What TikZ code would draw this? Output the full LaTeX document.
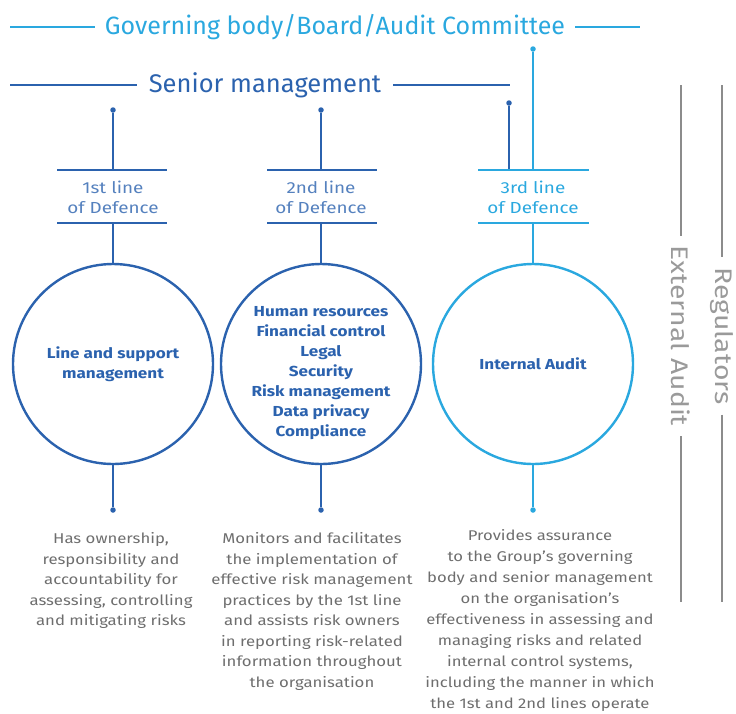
\documentclass[tikz,border=0pt]{standalone}
\usepackage{fontspec}
\setmainfont{Fira Sans}
\newfontfamily\wide{Fira Sans}[FakeStretch=1.18,Ligatures=TeX]
\definecolor{dblue}{HTML}{2B62AE}
\definecolor{lblue}{HTML}{2AA8DF}
\definecolor{gtext}{HTML}{6E6E6E}
\definecolor{gline}{HTML}{8C8C8C}
\definecolor{gside}{HTML}{9A9A9A}
\begin{document}
\begin{tikzpicture}[x=1pt,y=-1pt,
  ln/.style={line width=2.4pt},
  dotn/.style={circle,fill,inner sep=0pt,minimum size=5.5pt},
  ring/.style={circle,draw,line width=2.4pt,minimum size=200pt,inner sep=0pt},
  inring/.style={text=dblue,font=\wide\fontsize{14.5}{20}\selectfont\bfseries,align=center},
  lineof/.style={font=\wide\fontsize{16}{20}\selectfont,align=center},
  desc/.style={text=gtext,font=\wide\fontsize{14.2}{20.5}\selectfont,align=center,anchor=north},
  side/.style={text=gside,font=\wide\fontsize{24}{28}\selectfont,rotate=-90,inner sep=0pt},
  sline/.style={gline,line width=2pt}]
\useasboundingbox (0,0) rectangle (736,713);

% top headers
\node[text=lblue,font=\fontsize{25}{30}\selectfont,inner xsep=10pt] (gov) at (335,27) {Governing body/Board/Audit Committee};
\coordinate (govL) at (10,27); \coordinate (govR) at (640,27);
\draw[ln,lblue] (govL) -- (gov.west);
\draw[ln,lblue] (gov.east) -- (govR);

\node[text=dblue,font=\fontsize{25.5}{30}\selectfont,inner xsep=12pt] (sen) at (265,85) {Senior management};
\coordinate (senL) at (10,85); \coordinate (senR) at (510,85);
\draw[ln,dblue] (senL) -- (sen.west);
\draw[ln,dblue] (sen.east) -- (senR);

% ---- column 1
\node[dotn,dblue] (d1t) at (113,110) {};
\coordinate (b1a) at (113,170); \coordinate (b1aL) at (57,170); \coordinate (b1aR) at (167,170);
\coordinate (b1b) at (113,223); \coordinate (b1bL) at (57,223); \coordinate (b1bR) at (167,223);
\draw[ln,dblue] (d1t) -- (b1a);
\draw[ln,dblue] (b1aL) -- (b1aR);
\draw[ln,dblue] (b1bL) -- (b1bR);
\node[lineof,text=dblue!80] (l1) at (113,197) {1st line\\of Defence};
\node[ring,dblue] (c1) at (113,364) {};
\node[inring] (t1) at (113,364) {Line and support\\management};
\draw[ln,dblue] (b1b) -- (c1.north);
\node[dotn,dblue] (d1b) at (113,510) {};
\draw[ln,dblue] (c1.south) -- (d1b);
\node[desc] (x1) at (111,529) {Has ownership,\\responsibility and\\accountability for\\assessing, controlling\\and mitigating risks};

% ---- column 2
\node[dotn,dblue] (d2t) at (321,110) {};
\coordinate (b2a) at (321,170); \coordinate (b2aL) at (267,170); \coordinate (b2aR) at (377,170);
\coordinate (b2b) at (321,223); \coordinate (b2bL) at (267,223); \coordinate (b2bR) at (377,223);
\draw[ln,dblue] (d2t) -- (b2a);
\draw[ln,dblue] (b2aL) -- (b2aR);
\draw[ln,dblue] (b2bL) -- (b2bR);
\node[lineof,text=dblue!80] (l2) at (321,197) {2nd line\\of Defence};
\node[ring,dblue] (c2) at (321,364) {};
\node[inring] (t2) at (321,373) {Human resources\\Financial control\\Legal\\Security\\Risk management\\Data privacy\\Compliance};
\draw[ln,dblue] (b2b) -- (c2.north);
\node[dotn,dblue] (d2b) at (321,510) {};
\draw[ln,dblue] (c2.south) -- (d2b);
\node[desc] (x2) at (312,529) {Monitors and facilitates\\the implementation of\\effective risk management\\practices by the 1st line\\and assists risk owners\\in reporting risk-related\\information throughout\\the organisation};

% ---- column 3
\node[dotn,lblue] (dg) at (533,49) {};
\node[dotn,dblue] (d3t) at (509,103) {};
\coordinate (b3g) at (533,170); \coordinate (b3s) at (509,170);
\coordinate (b3aL) at (478,170); \coordinate (b3aR) at (589,170);
\coordinate (b3b) at (533,223); \coordinate (b3bL) at (478,223); \coordinate (b3bR) at (589,223);
\draw[ln,lblue] (dg) -- (b3g);
\draw[ln,dblue] (d3t) -- (b3s);
\draw[ln,lblue] (b3aL) -- (b3aR);
\draw[ln,lblue] (b3bL) -- (b3bR);
\node[lineof,text=lblue] (l3) at (533,197) {3rd line\\of Defence};
\node[ring,lblue] (c3) at (533,364) {};
\node[inring] (t3) at (533,364) {Internal Audit};
\draw[ln,lblue] (b3b) -- (c3.north);
\node[dotn,lblue] (d3b) at (533,510) {};
\draw[ln,lblue] (c3.south) -- (d3b);
\node[desc,font=\wide\fontsize{14.1}{21}\selectfont] (x3) at (540,526) {Provides assurance\\to the Group’s governing\\body and senior management\\on the organisation’s\\effectiveness in assessing and\\managing risks and related\\internal control systems,\\including the manner in which\\the 1st and 2nd lines operate};

% ---- right side
\node[side] (ea) at (681,336) {External Audit};
\coordinate (eaT) at (681,85); \coordinate (eaB) at (681,602);
\draw[sline] (eaT) -- ([yshift=10pt]ea.west);
\draw[sline] ([yshift=-10pt]ea.east) -- (eaB);
\node[side] (rg) at (722,336) {Regulators};
\coordinate (rgT) at (722,85); \coordinate (rgB) at (722,602);
\draw[sline] (rgT) -- ([yshift=10pt]rg.west);
\draw[sline] ([yshift=-10pt]rg.east) -- (rgB);
\end{tikzpicture}
\end{document}
